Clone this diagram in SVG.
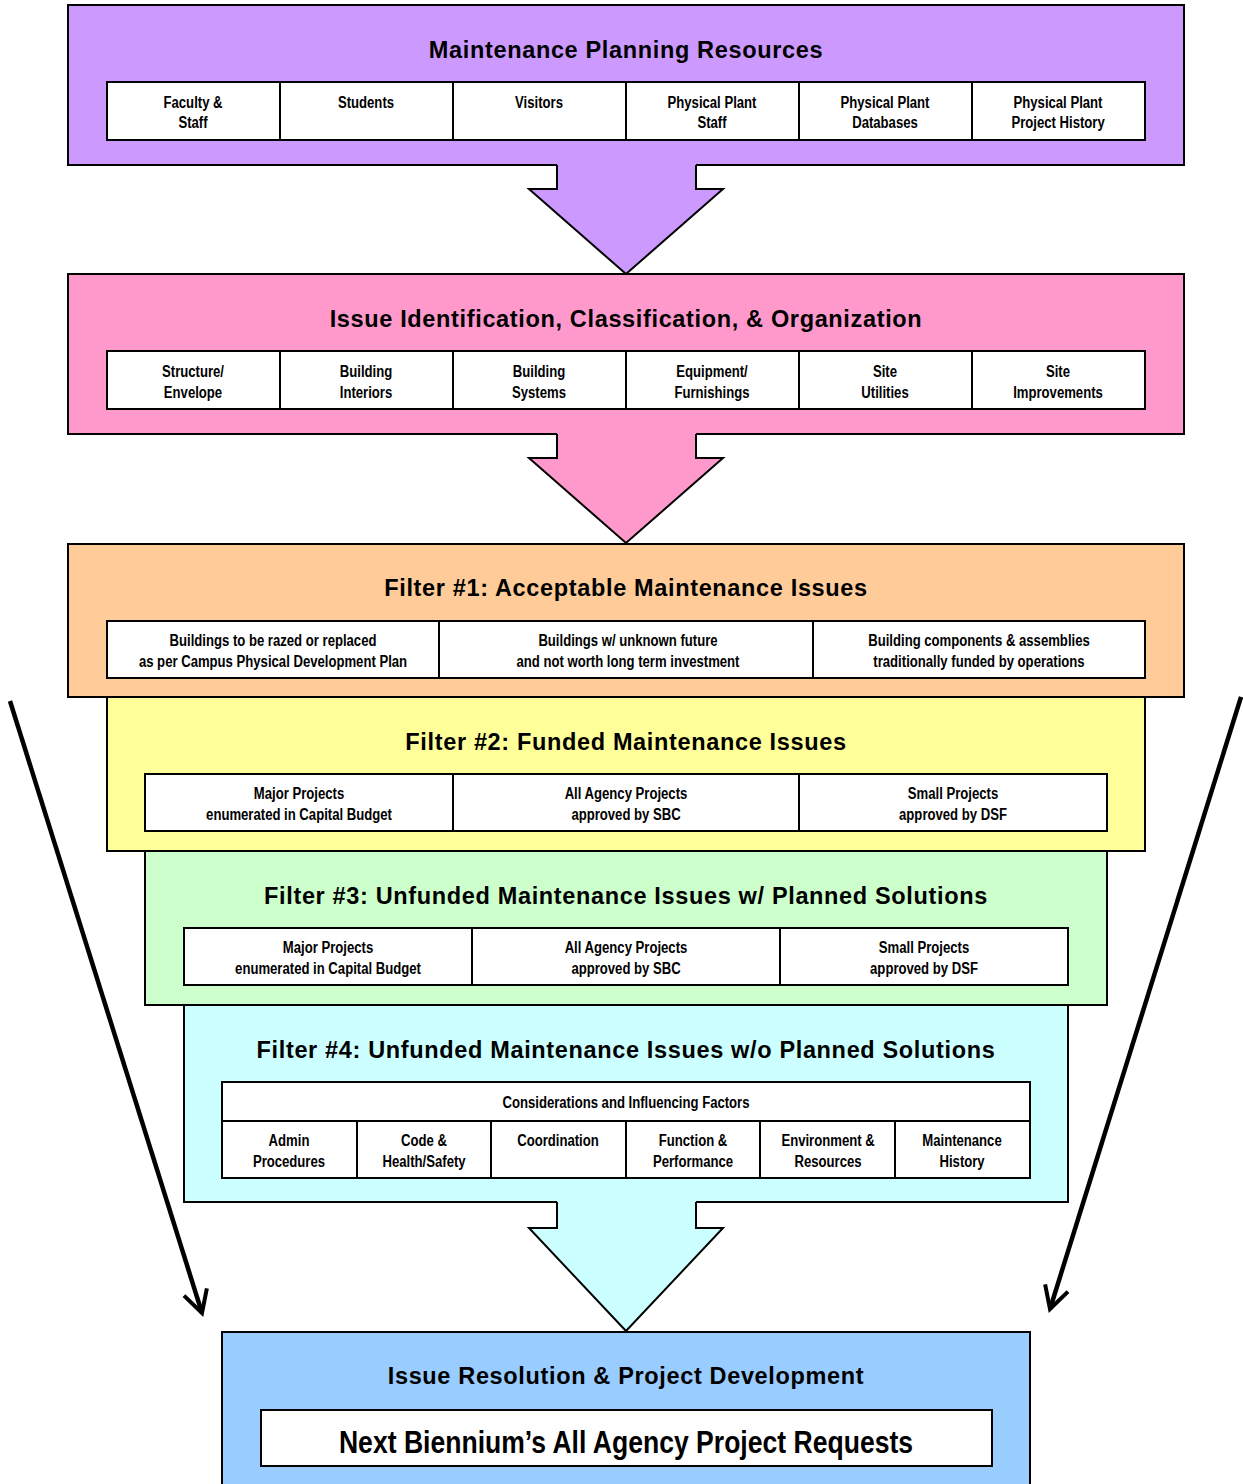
<svg xmlns="http://www.w3.org/2000/svg" width="1243" height="1484" viewBox="0 0 1243 1484">
<defs>
<style>
.box{stroke:#000;stroke-width:2}
.cell{fill:#fff;stroke:#000;stroke-width:2}
.title{font-family:"Liberation Sans",Arial,sans-serif;font-weight:bold;font-size:23.5px;text-anchor:middle;fill:#000;letter-spacing:0.65px}
.ct{font-family:"Liberation Sans",Arial,sans-serif;font-weight:bold;font-size:16px;text-anchor:middle;fill:#000;transform-box:fill-box;transform-origin:center;transform:scaleX(0.82)}
.big{font-family:"Liberation Sans",Arial,sans-serif;font-weight:bold;font-size:31px;text-anchor:middle;fill:#000;transform-box:fill-box;transform-origin:center;transform:scaleX(0.857)}
.edge{fill:none;stroke:#000;stroke-width:2;stroke-linejoin:miter}
.side{fill:none;stroke:#000;stroke-width:4.5}
</style>
<marker id="vhead" markerWidth="10" markerHeight="10" refX="8" refY="5" orient="auto" markerUnits="userSpaceOnUse" viewBox="0 0 10 10" overflow="visible">
<path d="M-14,-7 L8,5 L-14,17" fill="none" stroke="#000" stroke-width="4"/>
</marker>
</defs>
<rect width="1243" height="1484" fill="#fff"/>

<g id="n1">
<rect class="box" x="68" y="5" width="1116" height="160" fill="#CC99FF"/>
<text class="title" x="626" y="58">Maintenance Planning Resources</text>
<rect class="cell" x="107" y="82" width="173" height="58"/>
<rect class="cell" x="280" y="82" width="173" height="58"/>
<rect class="cell" x="453" y="82" width="173" height="58"/>
<rect class="cell" x="626" y="82" width="173" height="58"/>
<rect class="cell" x="799" y="82" width="173" height="58"/>
<rect class="cell" x="972" y="82" width="173" height="58"/>
<text class="ct" x="193" y="108">Faculty &amp;</text><text class="ct" x="193" y="128">Staff</text>
<text class="ct" x="366" y="108">Students</text>
<text class="ct" x="539" y="108">Visitors</text>
<text class="ct" x="712" y="108">Physical Plant</text><text class="ct" x="712" y="128">Staff</text>
<text class="ct" x="885" y="108">Physical Plant</text><text class="ct" x="885" y="128">Databases</text>
<text class="ct" x="1058" y="108">Physical Plant</text><text class="ct" x="1058" y="128">Project History</text>
</g>

<g id="n2">
<rect class="box" x="68" y="274" width="1116" height="160" fill="#FF99CC"/>
<text class="title" x="626" y="327">Issue Identification, Classification, &amp; Organization</text>
<rect class="cell" x="107" y="351" width="173" height="58"/>
<rect class="cell" x="280" y="351" width="173" height="58"/>
<rect class="cell" x="453" y="351" width="173" height="58"/>
<rect class="cell" x="626" y="351" width="173" height="58"/>
<rect class="cell" x="799" y="351" width="173" height="58"/>
<rect class="cell" x="972" y="351" width="173" height="58"/>
<text class="ct" x="193" y="377">Structure/</text><text class="ct" x="193" y="398">Envelope</text>
<text class="ct" x="366" y="377">Building</text><text class="ct" x="366" y="398">Interiors</text>
<text class="ct" x="539" y="377">Building</text><text class="ct" x="539" y="398">Systems</text>
<text class="ct" x="712" y="377">Equipment/</text><text class="ct" x="712" y="398">Furnishings</text>
<text class="ct" x="885" y="377">Site</text><text class="ct" x="885" y="398">Utilities</text>
<text class="ct" x="1058" y="377">Site</text><text class="ct" x="1058" y="398">Improvements</text>
</g>

<g id="n3">
<rect class="box" x="68" y="544" width="1116" height="153" fill="#FFCC99"/>
<text class="title" x="626" y="596">Filter #1: Acceptable Maintenance Issues</text>
<rect class="cell" x="107" y="621" width="332" height="57"/>
<rect class="cell" x="439" y="621" width="374" height="57"/>
<rect class="cell" x="813" y="621" width="332" height="57"/>
<text class="ct" x="273" y="646">Buildings to be razed or replaced</text><text class="ct" x="273" y="667">as per Campus Physical Development Plan</text>
<text class="ct" x="628" y="646">Buildings w/ unknown future</text><text class="ct" x="628" y="667">and not worth long term investment</text>
<text class="ct" x="979" y="646">Building components &amp; assemblies</text><text class="ct" x="979" y="667">traditionally funded by operations</text>
</g>

<g id="n4">
<rect class="box" x="107" y="697" width="1038" height="154" fill="#FFFF99"/>
<text class="title" x="626" y="750">Filter #2: Funded Maintenance Issues</text>
<rect class="cell" x="145" y="774" width="308" height="57"/>
<rect class="cell" x="453" y="774" width="346" height="57"/>
<rect class="cell" x="799" y="774" width="308" height="57"/>
<text class="ct" x="299" y="799">Major Projects</text><text class="ct" x="299" y="820">enumerated in Capital Budget</text>
<text class="ct" x="626" y="799">All Agency Projects</text><text class="ct" x="626" y="820">approved by SBC</text>
<text class="ct" x="953" y="799">Small Projects</text><text class="ct" x="953" y="820">approved by DSF</text>
</g>

<g id="n5">
<rect class="box" x="145" y="851" width="962" height="154" fill="#CCFFCC"/>
<text class="title" x="626" y="904">Filter #3: Unfunded Maintenance Issues w/ Planned Solutions</text>
<rect class="cell" x="184" y="928" width="288" height="57"/>
<rect class="cell" x="472" y="928" width="308" height="57"/>
<rect class="cell" x="780" y="928" width="288" height="57"/>
<text class="ct" x="328" y="953">Major Projects</text><text class="ct" x="328" y="974">enumerated in Capital Budget</text>
<text class="ct" x="626" y="953">All Agency Projects</text><text class="ct" x="626" y="974">approved by SBC</text>
<text class="ct" x="924" y="953">Small Projects</text><text class="ct" x="924" y="974">approved by DSF</text>
</g>

<g id="n6">
<rect class="box" x="184" y="1005" width="884" height="197" fill="#CCFFFF"/>
<text class="title" x="626" y="1058">Filter #4: Unfunded Maintenance Issues w/o Planned Solutions</text>
<rect class="cell" x="222" y="1082" width="808" height="39"/>
<text class="ct" x="626" y="1108">Considerations and Influencing Factors</text>
<rect class="cell" x="222" y="1121" width="135" height="57"/>
<rect class="cell" x="357" y="1121" width="134" height="57"/>
<rect class="cell" x="491" y="1121" width="135" height="57"/>
<rect class="cell" x="626" y="1121" width="134" height="57"/>
<rect class="cell" x="760" y="1121" width="135" height="57"/>
<rect class="cell" x="895" y="1121" width="135" height="57"/>
<text class="ct" x="289" y="1146">Admin</text><text class="ct" x="289" y="1167">Procedures</text>
<text class="ct" x="424" y="1146">Code &amp;</text><text class="ct" x="424" y="1167">Health/Safety</text>
<text class="ct" x="558" y="1146">Coordination</text>
<text class="ct" x="693" y="1146">Function &amp;</text><text class="ct" x="693" y="1167">Performance</text>
<text class="ct" x="828" y="1146">Environment &amp;</text><text class="ct" x="828" y="1167">Resources</text>
<text class="ct" x="962" y="1146">Maintenance</text><text class="ct" x="962" y="1167">History</text>
</g>

<g id="n7">
<rect class="box" x="222" y="1332" width="808" height="160" fill="#99CCFF"/>
<text class="title" x="626" y="1384">Issue Resolution &amp; Project Development</text>
<rect class="cell" x="261" y="1410" width="731" height="56"/>
<text class="big" x="626" y="1453">Next Biennium’s All Agency Project Requests</text>
</g>

<g id="connectors">
<polygon points="557,164 557,189 529,189 626,274 723,189 696,189 696,164" fill="#CC99FF"/>
<path class="edge" d="M557,165 L557,189 L529,189 L626,274 L723,189 L696,189 L696,165"/>
<polygon points="557,433 557,458 529,458 626,543 723,458 696,458 696,433" fill="#FF99CC"/>
<path class="edge" d="M557,434 L557,458 L529,458 L626,543 L723,458 L696,458 L696,434"/>
<polygon points="557,1201 557,1228 529,1228 626,1331 723,1228 696,1228 696,1201" fill="#CCFFFF"/>
<path class="edge" d="M557,1202 L557,1228 L529,1228 L626,1331 L723,1228 L696,1228 L696,1202"/>
<line class="side" x1="10" y1="701" x2="202" y2="1313" marker-end="url(#vhead)"/>
<line class="side" x1="1241" y1="697" x2="1050" y2="1309" marker-end="url(#vhead)"/>
</g>
</svg>
